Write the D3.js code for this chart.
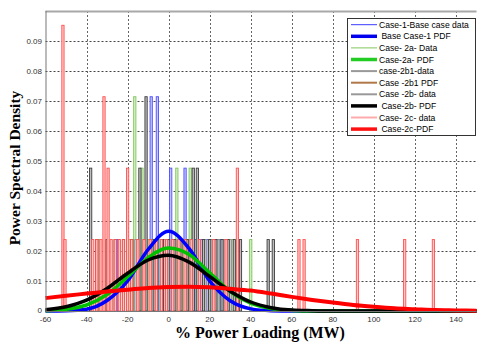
<!DOCTYPE html>
<html>
<head>
<meta charset="utf-8">
<script src="https://cdn.jsdelivr.net/npm/d3@7"></script>
<style>
  body { margin: 0; background: #fff; }
  svg { display: block; }
  .tick-label { font-family: Arial, "Liberation Sans", sans-serif; font-size: 8px; fill: #333; }
  .legend-text { font-family: Arial, "Liberation Sans", sans-serif; font-size: 8.6px; fill: #000; }
  .axis-title { font-family: "Liberation Serif", "Times New Roman", serif; font-weight: bold; fill: #000; }
</style>
</head>
<body>
<div id="chart"></div>
<script>
// Histogram data: [bin centre (MW), count]; one count = 1/42 density
const case1Data = [[-24.5,1],[-20,1],[-17,1],[-14,1],[-11,1],[-8.5,3],[-5.5,3],[-3,1],[-1,1],[1,2],[3,1],[5,1],[8,2],[10,1],[13,1],[16,1],[19,1],[22,1],[25,1]];
const case2aData = [[-34,1],[-30,1],[-26,1],[-22,1],[-19,1],[-16.5,3],[-13,2],[-10,1],[-7,1],[-4,1],[-1,1],[4,2],[7,1],[10.5,2],[14,1],[17,1],[20,1],[24,1],[28,1],[31,1],[40,1]];
const case2b1Data = [[-20,1],[-16,1],[-12,1],[-8,1],[-2,1],[2,1],[5,1],[11,1],[15,1],[18,1],[21,1],[24,1],[27,1],[30,1]];
const case2bData = [[-38,2],[-35,1],[-30,1],[-26,1],[-22,1],[-18,1],[-14,2],[-11,3],[-7,1],[-3,1],[0,1],[3,1],[6,1],[9,1],[12,2],[14,2],[17,1],[20,1],[23,1],[26,1],[29,1],[32,1],[35,1],[48.5,1],[51,1]];
const case2cData = [[-51.5,4],[-50.5,1],[-37,1],[-35,1],[-33,1],[-31.5,3],[-29.5,2],[-28,1],[-26,1],[-24,1],[-22,1],[-20,2],[-18,1],[-15,1],[-12,1],[-9,1],[-6,1],[-3.5,1],[-1,1],[2,1],[5,1],[8,1],[11,1],[15,1],[22,1],[28,1],[33.5,2],[63.5,1],[66,1],[92,1],[115,1],[129,1]];
const countUnit = 1 / 42;
const binWidth = 1.1;

// PDF curves
const pdfX = [-60,-50,-40,-30,-20,-10,0,10,20,30,40,50,60,70,80,90,100,110,120,130,140,150];
const case1Pdf  = [0,0.0001,0.0006,0.0035,0.0100,0.0205,0.0266,0.0208,0.0100,0.0034,0.0007,0.0001,0,0,0,0,0,0,0,0,0,0];
const case2aPdf = [0.0001,0.0006,0.0020,0.0055,0.0114,0.0178,0.0210,0.0188,0.0127,0.0065,0.0026,0.0008,0.0002,0,0,0,0,0,0,0,0,0];
const case2b1Pdf = [0.0004,0.0014,0.0036,0.0075,0.0126,0.0170,0.0186,0.0163,0.0115,0.0066,0.0030,0.0011,0.0003,0.0001,0,0,0,0,0,0,0,0];
const case2bPdf = [0.0004,0.0014,0.0036,0.0075,0.0126,0.0170,0.0186,0.0163,0.0115,0.0066,0.0030,0.0011,0.0003,0.0001,0,0,0,0,0,0,0,0];
const case2cPdf = [0.0043,0.0051,0.0058,0.0065,0.0071,0.0077,0.0080,0.0081,0.0079,0.0074,0.0068,0.0058,0.0047,0.0037,0.0028,0.0020,0.0014,0.0009,0.0006,0.0003,0.0002,0.0001];

const xTicks = [-60,-40,-20,0,20,40,60,80,100,120,140];
const yTicks = [0,0.01,0.02,0.03,0.04,0.05,0.06,0.07,0.08,0.09];

const legendLabels = ["Case-1-Base case data"," Base Case-1 PDF","Case- 2a- Data","Case-2a- PDF","case-2b1-data","Case -2b1 PDF","Case -2b- data"," Case-2b- PDF","Case- 2c- data"," Case-2c-PDF"];

const width = 477, height = 342;
const svg = d3.select("#chart").append("svg").attr("width", width).attr("height", height);

const x = d3.scaleLinear().domain([-60, 150]).range([45.5, 476.5]);
const y = d3.scaleLinear().domain([0, 0.1]).range([311, 11]);

// grid
const grid = svg.append("g");
grid.selectAll(".hg").data(yTicks.slice(1)).enter().append("line")
  .attr("x1", x(-60)).attr("x2", x(150))
  .attr("y1", d => Math.round(y(d)) + 0.5).attr("y2", d => Math.round(y(d)) + 0.5)
  .attr("stroke", "#444").attr("stroke-width", 1).attr("stroke-dasharray", "2,2");
grid.selectAll(".vg").data(xTicks.slice(1)).enter().append("line")
  .attr("x1", d => Math.round(x(d)) + 0.5).attr("x2", d => Math.round(x(d)) + 0.5)
  .attr("y1", y(0.1)).attr("y2", y(0))
  .attr("stroke", "#666").attr("stroke-width", 1).attr("stroke-dasharray", "2,2");

// histograms
const histSeries = [
  { data: case1Data, stroke: "#4d4dff", fill: "#c4c4ff" },
  { data: case2aData, stroke: "#7fc65a", fill: "#d6efc8" },
  { data: case2b1Data, stroke: "#8a8a8a", fill: "#cfcfcf" },
  { data: case2bData, stroke: "#3c3c3c", fill: "#bdbdbd" },
  { data: case2cData, stroke: "#ff5050", fill: "#ffc6c6" }
];
histSeries.forEach(s => {
  svg.append("g").selectAll("rect").data(s.data).enter().append("rect")
    .attr("x", d => x(d[0] - binWidth / 2))
    .attr("width", x(binWidth) - x(0))
    .attr("y", d => y(d[1] * countUnit))
    .attr("height", d => y(0) - y(d[1] * countUnit))
    .attr("fill", s.fill)
    .attr("stroke", s.stroke)
    .attr("stroke-width", 0.9);
});

// PDF curves
const line = d3.line()
  .x((d, i) => x(pdfX[i]))
  .y(d => y(d))
  .curve(d3.curveMonotoneX);
const pdfSeries = [
  { data: case1Pdf, color: "#0000ff", w: 3.5 },
  { data: case2aPdf, color: "#00c000", w: 3.5 },
  { data: case2b1Pdf, color: "#a0704a", w: 2 },
  { data: case2bPdf, color: "#000000", w: 3.5 },
  { data: case2cPdf, color: "#ff0000", w: 4 }
];
pdfSeries.forEach(s => {
  svg.append("path").datum(s.data)
    .attr("d", line)
    .attr("fill", "none")
    .attr("stroke", s.color)
    .attr("stroke-width", s.w);
});

// axes frame
svg.append("line").attr("x1", x(-60)).attr("x2", x(150)).attr("y1", 11.5).attr("y2", 11.5)
  .attr("stroke", "#a8a8a8").attr("stroke-width", 2);
svg.append("line").attr("x1", 46).attr("x2", 46).attr("y1", 11).attr("y2", 311)
  .attr("stroke", "#777").attr("stroke-width", 1);
svg.append("line").attr("x1", 46).attr("x2", x(150)).attr("y1", 311.5).attr("y2", 311.5)
  .attr("stroke", "#777").attr("stroke-width", 1);

// tick labels
svg.append("g").selectAll("text").data(yTicks).enter().append("text")
  .attr("class", "tick-label")
  .attr("x", 42).attr("y", d => y(d) + (d === 0 ? 2 : 3))
  .attr("text-anchor", "end")
  .text(d => d === 0 ? "0" : d3.format(".2f")(d));
svg.append("g").selectAll("text").data(xTicks).enter().append("text")
  .attr("class", "tick-label")
  .attr("x", d => x(d)).attr("y", 322)
  .attr("text-anchor", "middle")
  .text(d => d);

// axis titles
svg.append("text").attr("class", "axis-title")
  .attr("transform", "translate(20,168) rotate(-90)")
  .attr("text-anchor", "middle")
  .style("font-size", "15.5px")
  .text("Power Spectral Density");
svg.append("text").attr("class", "axis-title")
  .attr("x", 260).attr("y", 338)
  .attr("text-anchor", "middle")
  .style("font-size", "16px")
  .text("% Power Loading (MW)");

// legend
const legendStyles = [
  { color: "#3a3aff", w: 1 },
  { color: "#0000ee", w: 3.5 },
  { color: "#7fc65a", w: 1 },
  { color: "#22cc22", w: 3.5 },
  { color: "#999999", w: 2 },
  { color: "#b07848", w: 2 },
  { color: "#999999", w: 2 },
  { color: "#000000", w: 3.5 },
  { color: "#ffaaaa", w: 2 },
  { color: "#ff1010", w: 3.5 }
];
const legend = svg.append("g");
legend.append("rect").attr("x", 347.5).attr("y", 18.5).attr("width", 128).attr("height", 117)
  .attr("fill", "#fff").attr("stroke", "#333").attr("stroke-width", 1);
const rows = legend.selectAll(".row").data(legendLabels).enter().append("g")
  .attr("transform", (d, i) => `translate(0,${24.7 + i * 11.6})`);
rows.append("line").attr("x1", 351).attr("x2", 377).attr("y1", 0).attr("y2", 0)
  .attr("stroke", (d, i) => legendStyles[i].color)
  .attr("stroke-width", (d, i) => legendStyles[i].w);
rows.append("text").attr("class", "legend-text")
  .attr("x", 379).attr("y", 3)
  .attr("xml:space", "preserve")
  .text(d => d);
</script>
</body>
</html>
